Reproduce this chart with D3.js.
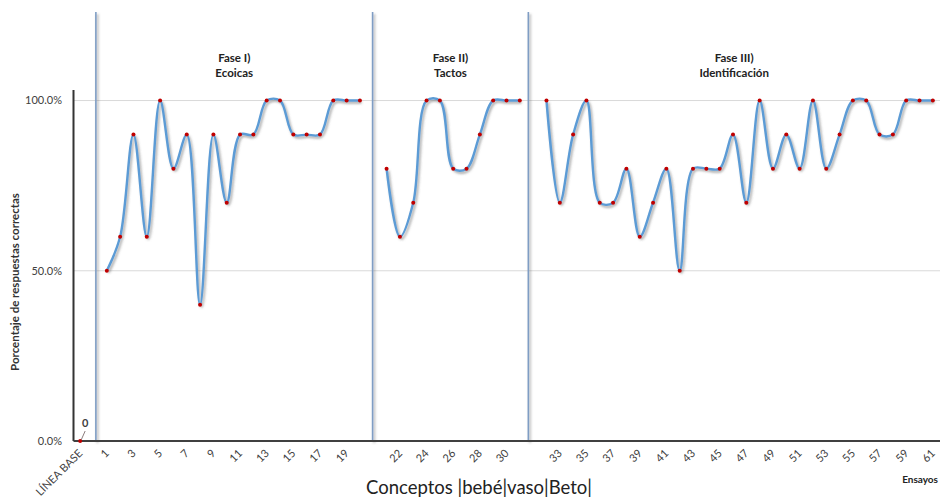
<!DOCTYPE html>
<html><head><meta charset="utf-8">
<script src="https://cdn.jsdelivr.net/npm/d3@7"></script>
<style>
html,body{margin:0;padding:0;background:#fff;}
svg{display:block;font-family:Lato,"Open Sans",sans-serif;}
</style></head>
<body><svg id="chart" width="940" height="499"></svg>
<script>
// ---- data ----
const lineaBaseLabel = "LÍNEA BASE";
const lineaBaseValue = 0;
const faseI   = [50,60,90,60,100,80,90,40,90,70,90,90,100,100,90,90,90,100,100,100];           // trials 1-20
const faseII  = [80,60,70,100,100,80,80,90,100,100,100];                                          // trials 21-31
const faseIII = [100,70,90,100,70,70,80,60,70,80,50,80,80,80,90,70,100,80,90,80,100,80,90,100,100,90,90,100,100,100]; // trials 32-61
const phaseTitles = [["Fase I)","Ecoicas"],["Fase II)","Tactos"],["Fase III)","Identificación"]];
const yTicks = [0,50,100];
const yTickLabels = ["0.0%","50.0%","100.0%"];
const xTitle = "Conceptos |bebé|vaso|Beto|";
const yTitle = "Porcentaje de respuestas correctas";
const xUnit = "Ensayos";

// ---- build categories ----
const cats = [lineaBaseLabel, "gap1"];
const phases = [faseI, faseII, faseIII];
let trial = 1;
const phaseData = phases.map((arr, p) => {
  const pts = arr.map(v => { const c = String(trial++); cats.push(c); return {c, v}; });
  if (p < 2) cats.push("gap" + (p + 2));
  return pts;
});
const gaps = ["gap1","gap2","gap3"];
const gapNudge = [0.18, -0.05, -0.36]; // fraction of a step

const svg = d3.select("#chart");
const L = 73.5, R = 939.5, B = 441, T = 90;
const x = d3.scalePoint().domain(cats).range([L, R]).padding(0.5);
const y = d3.scaleLinear().domain([0, 103.1]).range([B, T]);
const step = x.step();

const defs = svg.append("defs");
const f = defs.append("filter").attr("id","sh").attr("filterUnits","userSpaceOnUse")
  .attr("x",0).attr("y",0).attr("width",940).attr("height",499);
f.append("feDropShadow").attr("dx",1.6).attr("dy",2).attr("stdDeviation",1.3).attr("flood-color","#555").attr("flood-opacity",0.5);

// gridlines
svg.append("g").selectAll("line").data(yTicks.filter(d => d > 0)).join("line")
  .attr("x1", L).attr("x2", 940).attr("y1", d => y(d)).attr("y2", d => y(d))
  .attr("stroke", "#d9d9d9").attr("stroke-width", 1);

// separators
const sepX = gaps.map((g, i) => x(g) + gapNudge[i] * step);
svg.append("g").selectAll("line").data(sepX).join("line")
  .attr("x1", d => d).attr("x2", d => d).attr("y1", 12).attr("y2", B)
  .attr("stroke", "#7f9dc4").attr("stroke-width", 1.6).attr("filter","url(#sh)");

// y axis tick labels
svg.append("g").selectAll("text").data(yTicks).join("text")
  .attr("x", 62).attr("y", d => y(d)).attr("dy", "0.35em")
  .attr("text-anchor", "end").attr("font-size", 11).attr("fill", "#404040")
  .text((d, i) => yTickLabels[i]);

// axes lines
svg.append("line").attr("x1", L).attr("x2", L).attr("y1", T).attr("y2", B)
  .attr("stroke", "#333").attr("stroke-width", 2);
svg.append("line").attr("x1", L).attr("x2", 940).attr("y1", B).attr("y2", B)
  .attr("stroke", "#404040").attr("stroke-width", 2.2);

// x tick labels
const labeled = cats.map((c, i) => ({c, i})).filter(d => d.i % 2 === 0 && !d.c.startsWith("gap"));
svg.append("g").selectAll("text").data(labeled).join("text")
  .attr("transform", d => `translate(${x(d.c) + 3},${B + 13}) rotate(-45)`)
  .attr("text-anchor", "end").attr("font-size", 11).attr("fill", "#404040")
  .text(d => d.c);

// lines
const line = d3.line().x(d => x(d.c)).y(d => y(d.v)).curve(d3.curveCatmullRom.alpha(0.5));
svg.append("g").selectAll("path").data(phaseData).join("path")
  .attr("d", line).attr("fill", "none").attr("stroke", "#5b9bd5").attr("stroke-width", 2.4)
  .attr("filter", "url(#sh)");

// markers
const allPts = [{c: lineaBaseLabel, v: lineaBaseValue}].concat(...phaseData);
svg.append("g").selectAll("circle").data(allPts).join("circle")
  .attr("cx", d => x(d.c)).attr("cy", d => y(d.v)).attr("r", 2)
  .attr("fill", "#c00000");

// linea base data label with leader
svg.append("line").attr("x1", x(lineaBaseLabel) + 1).attr("y1", y(lineaBaseValue) - 1)
  .attr("x2", x(lineaBaseLabel) + 5).attr("y2", y(lineaBaseValue) - 10)
  .attr("stroke", "#7f6f6f").attr("stroke-width", 0.9);
svg.append("text").attr("x", x(lineaBaseLabel) + 5).attr("y", y(lineaBaseValue) - 14)
  .attr("text-anchor", "middle").attr("font-size", 11).attr("font-weight", "bold").attr("fill", "#404040")
  .text(String(lineaBaseValue));

// phase titles
const bounds = sepX.concat([940]);
svg.append("g").selectAll("text").data(phaseTitles).join("text")
  .attr("x", (d, i) => (bounds[i] + bounds[i + 1]) / 2).attr("y", 62)
  .attr("text-anchor", "middle").attr("font-size", 11.5).attr("font-weight", "bold").attr("fill", "#222")
  .each(function(d) {
    d3.select(this).selectAll("tspan").data(d).join("tspan")
      .attr("x", d3.select(this).attr("x")).attr("dy", (t, j) => j === 0 ? 0 : 14.5).text(t => t);
  });

// axis titles
svg.append("text").attr("transform", "translate(19,282) rotate(-90)")
  .attr("text-anchor", "middle").attr("font-size", 11.5).attr("font-weight", "bold").attr("fill", "#333")
  .text(yTitle);
svg.append("text").attr("x", 479).attr("y", 494)
  .attr("text-anchor", "middle").attr("font-size", 18.5).attr("fill", "#222")
  .text(xTitle);
svg.append("text").attr("x", 938).attr("y", 483).attr("text-anchor", "end")
  .attr("font-size", 10).attr("font-weight", "bold").attr("fill", "#222")
  .text(xUnit);
</script></body></html>
